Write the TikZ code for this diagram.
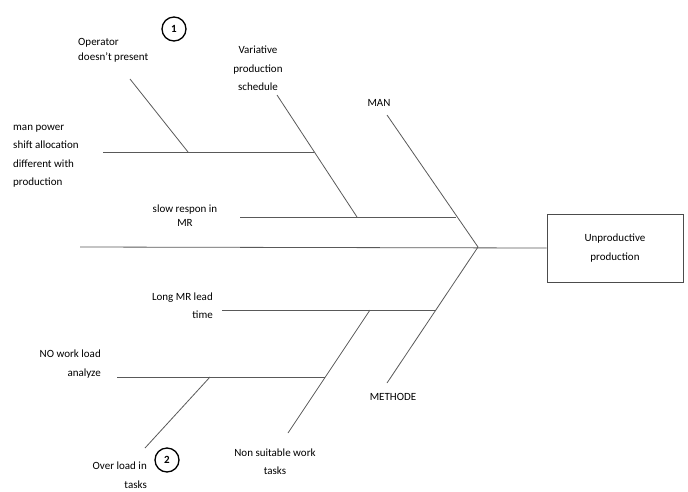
\documentclass[tikz,border=0pt]{standalone}
\usepackage{fontspec}
\setmainfont{Carlito}
\usetikzlibrary{positioning,calc}

\begin{document}
\begin{tikzpicture}[x=1pt, y=-1pt,
    bone/.style={draw=black!65, line width=0.8pt},
    lbl/.style={font=\fontsize{11}{18.5}\selectfont, inner sep=0pt, text=black},
    effect/.style={draw=black!70, line width=0.8pt, minimum width=136pt, minimum height=68pt,
                   align=center, font=\fontsize{11}{19}\selectfont, inner sep=3pt},
    num/.style={draw, circle, line width=1.3pt, minimum size=24pt, inner sep=0pt,
                font=\bfseries\fontsize{11}{13}\selectfont}
  ]
  \useasboundingbox (0,0) rectangle (688,491);

  % effect box and spine
  \node[effect] (effect) at (615,248) {Unproductive\\production};
  \coordinate (tail) at (80,247);
  \coordinate (head) at (478,247);
  \draw[bone] (tail) -- (effect.west);

  % main bones
  \coordinate (mantop) at (387,115);
  \coordinate (methbot) at (387,383);
  \draw[bone] (head) -- (mantop);
  \draw[bone] (head) -- (methbot);
  \node[lbl] (man) at (379,103) {MAN};
  \node[lbl] (meth) at (393,397) {METHODE};

  % MAN side causes
  \coordinate (slowL) at (240,217);
  \coordinate (slowR) at (456,217);
  \coordinate (vartop) at (277,95);
  \coordinate (varbot) at (357,217);
  \coordinate (mpL) at (103,152);
  \coordinate (mpR) at (314,152);
  \coordinate (optop) at (130,79);
  \coordinate (opbot) at (188,152);
  \draw[bone] (slowL) -- (slowR);
  \draw[bone] (vartop) -- (varbot);
  \draw[bone] (mpL) -- (mpR);
  \draw[bone] (optop) -- (opbot);

  \node[lbl, align=left, anchor=west, font=\fontsize{11}{15}\selectfont] (op) at (78,50.5) {Operator\\doesn't present};
  \node[num] (one) at (174,29) {1};
  \node[lbl, align=center] (var) at (258,68.5) {Variative\\production\\schedule};
  \node[lbl, align=left, anchor=west] (mp) at (13,156) {man power\\shift allocation\\different with\\production};
  \node[lbl, align=center, font=\fontsize{11}{13.5}\selectfont] (slow) at (185,215.5) {slow respon in\\MR};

  % METHODE side causes
  \coordinate (longL) at (222,310);
  \coordinate (longR) at (436,310);
  \coordinate (nsbot) at (288,433);
  \coordinate (nstop) at (370,310);
  \coordinate (noL) at (117,377);
  \coordinate (noR) at (325,377);
  \coordinate (olbot) at (145,448);
  \coordinate (oltop) at (210,377);
  \draw[bone] (longL) -- (longR);
  \draw[bone] (nsbot) -- (nstop);
  \draw[bone] (noL) -- (noR);
  \draw[bone] (olbot) -- (oltop);

  \node[lbl, align=right, anchor=east] (long) at (213,305.5) {Long MR lead\\time};
  \node[lbl, align=right, anchor=east] (nowl) at (101,364) {NO work load\\analyze};
  \node[lbl, align=right, anchor=east] (over) at (147,475) {Over load in\\tasks};
  \node[num] (two) at (167,460) {2};
  \node[lbl, align=center] (ns) at (275,461.5) {Non suitable work\\tasks};
\end{tikzpicture}
\end{document}
